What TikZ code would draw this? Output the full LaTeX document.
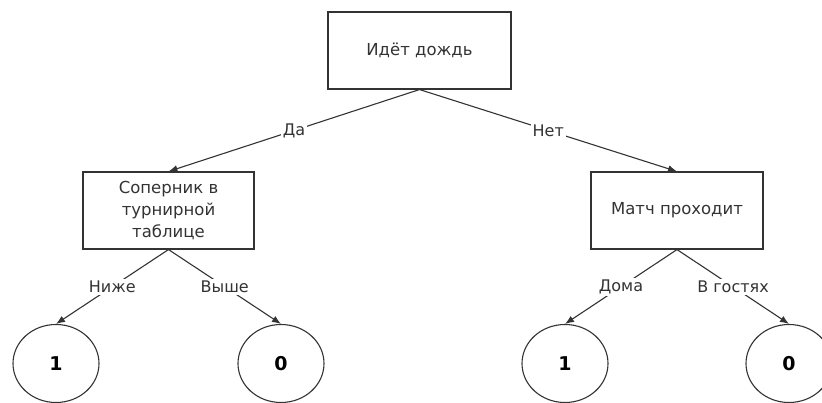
\documentclass[tikz,border=0pt]{standalone}
\usepackage{fontspec}
\setmainfont{DejaVu Sans}
\usetikzlibrary{shapes.geometric,arrows.meta}
\definecolor{ink}{HTML}{333333}
\tikzset{
  cond/.style={draw=ink, line width=1.1pt, rectangle, minimum width=#1, minimum height=77pt, align=center, text=ink, font=\fontsize{16.5}{22}\selectfont},
  leaf/.style={draw=ink, line width=1.1pt, ellipse, minimum width=86pt, minimum height=78pt, text=black, font=\fontsize{19}{22}\selectfont\bfseries},
  branch/.style={draw=ink, line width=1.1pt, -{Latex[length=9pt,width=7pt]}},
  lbl/.style={fill=white, text=ink, inner sep=2pt, font=\fontsize{16}{19}\selectfont}
}
\begin{document}
\begin{tikzpicture}[x=1pt,y=-1pt]
\useasboundingbox (0,0) rectangle (822,403);
\node[cond=183pt] (rain) at (419.5,50.5) {Идёт дождь};
\node[cond=171pt] (rival) at (168.5,210.5) {Соперник в\\турнирной\\таблице};
\node[cond=172pt] (match) at (677,210.5) {Матч проходит};
\node[leaf] (a) at (56,363.5) {1};
\node[leaf] (b) at (281,363.5) {0};
\node[leaf] (c) at (565,363.5) {1};
\node[leaf] (d) at (789,363.5) {0};
\draw[branch] (rain.south) -- node[lbl] {Да} (rival.north);
\draw[branch] (rain.south) -- node[lbl] {Нет} (match.north);
\draw[branch] (rival.south) -- node[lbl] {Ниже} (a.north);
\draw[branch] (rival.south) -- node[lbl] {Выше} (b.north);
\draw[branch] (match.south) -- node[lbl] {Дома} (c.north);
\draw[branch] (match.south) -- node[lbl] {В гостях} (d.north);
\end{tikzpicture}
\end{document}
